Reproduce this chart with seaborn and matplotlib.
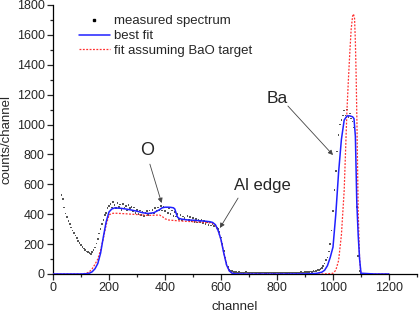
import numpy as np
import matplotlib
matplotlib.use("Agg")
import matplotlib.pyplot as plt
import seaborn as sns
from matplotlib.lines import Line2D
from matplotlib.ticker import MultipleLocator

sns.set_style("ticks")
plt.rcParams["font.family"] = ["Liberation Sans", "DejaVu Sans"]

# measured spectrum, one value every 5 channels from 30 to 1100
measured_channel = np.arange(30, 1101, 5)
measured_counts = [
    530, 500, 445, 405, 380, 355, 335, 312, 292, 275,
    258, 240, 222, 208, 192, 182, 170, 160, 150, 146,
    140, 135, 148, 160, 178, 205, 235, 270, 300, 335,
    360, 395, 410, 440, 455, 470, 445, 480, 460, 440,
    475, 450, 465, 430, 470, 445, 455, 425, 460, 440,
    450, 420, 445, 410, 430, 400, 425, 395, 415, 390,
    410, 420, 395, 425, 405, 430, 410, 440, 420, 445,
    430, 455, 425, 450, 420, 445, 410, 440, 400, 425,
    390, 415, 385, 400, 370, 395, 360, 385, 375, 365,
    390, 360, 380, 355, 375, 350, 370, 345, 365, 350,
    360, 340, 355, 335, 350, 330, 345, 325, 335, 320,
    325, 310, 300, 280, 245, 200, 155, 110, 75, 45,
    30, 22, 18, 15, 12, 14, 10, 12, 9, 11,
    8, 10, 12, 9, 7, 10, 8, 11, 9, 7,
    10, 8, 6, 9, 11, 7, 8, 10, 6, 9,
    7, 9, 8, 6, 10, 7, 9, 8, 7, 10,
    8, 6, 9, 7, 10, 8, 9, 11, 8, 10,
    9, 12, 10, 11, 13, 12, 14, 13, 16, 15,
    18, 17, 22, 25, 28, 32, 40, 55, 70, 95,
    110, 150, 200, 290, 420, 560, 690, 820, 930, 1000,
    1030, 1060, 1095, 1060, 1100, 1050, 1075, 1040, 1020, 980,
    850, 450, 120, 20, 3,
]

# best fit
best_channel = [0, 100, 120, 130, 140, 150, 160, 170, 180, 190, 200, 210, 220,
                240, 260, 280, 300, 320, 340, 360, 380, 390, 400, 410, 420,
                430, 435, 440, 445, 450, 460, 480, 500, 520, 540, 560, 570,
                580, 590, 600, 610, 620, 630, 640, 650, 700, 800, 900, 940,
                960, 970, 980, 990, 1000, 1010, 1020, 1030, 1040, 1050, 1060,
                1070, 1075, 1080, 1085, 1090, 1095, 1100, 1150, 1200]
best_counts = [0, 0, 2, 5, 15, 35, 70, 140, 250, 350, 415, 435, 442,
               440, 435, 428, 420, 410, 405, 410, 430, 443, 447, 447, 446,
               443, 435, 405, 380, 372, 367, 362, 360, 357, 354, 350, 345,
               330, 290, 230, 140, 60, 20, 5, 1, 0, 0, 1, 4,
               12, 25, 55, 110, 180, 400, 680, 900, 1030, 1058, 1058,
               1052, 1040, 920, 480, 260, 100, 5, 0, 0]

# fit assuming BaO target
bao_channel = [0, 100, 120, 130, 140, 150, 160, 170, 180, 190, 200, 210, 220,
               240, 260, 280, 300, 320, 340, 360, 380, 390, 400, 410, 420,
               440, 460, 480, 500, 520, 540, 560, 570, 580, 590, 600, 610,
               620, 630, 640, 650, 700, 800, 900, 960, 970, 980, 990, 1000,
               1010, 1020, 1030, 1040, 1045, 1050, 1055, 1060, 1065, 1070,
               1073, 1077, 1080, 1083, 1086, 1090, 1095, 1100, 1150, 1200]
bao_counts = [0, 0, 5, 15, 35, 65, 100, 160, 240, 330, 395, 405, 407,
              405, 403, 400, 398, 395, 392, 393, 395, 385, 370, 362, 360,
              357, 354, 352, 350, 348, 345, 342, 338, 325, 290, 230, 140,
              60, 20, 5, 1, 0, 0, 0, 0, 1, 2, 3, 5,
              25, 90, 260, 560, 830, 1100, 1300, 1480, 1640, 1725,
              1740, 1710, 1550, 1300, 950, 420, 100, 0, 0, 0]

fig = plt.figure(figsize=(4.19, 3.14), dpi=100)
ax = fig.add_axes([0.1265, 0.1274, 0.8687, 0.8567])

sns.scatterplot(x=measured_channel, y=measured_counts, ax=ax, marker="s",
                s=1.4, color="#555555", edgecolor="none", linewidth=0, zorder=2)
sns.lineplot(x=bao_channel, y=bao_counts, ax=ax, color="#ff3030",
             linewidth=0.9, linestyle=(0, (1.5, 1.2)), sort=False,
             estimator=None, zorder=3)
sns.lineplot(x=best_channel, y=best_counts, ax=ax, color="#2020ff",
             linewidth=1.1, sort=False, estimator=None, zorder=4)

ax.set_xlim(0, 1300)
ax.set_ylim(0, 1800)
ax.xaxis.set_major_locator(MultipleLocator(200))
ax.xaxis.set_minor_locator(MultipleLocator(100))
ax.yaxis.set_major_locator(MultipleLocator(200))
ax.yaxis.set_minor_locator(MultipleLocator(100))
ax.tick_params(which="major", direction="out", length=4, width=0.9,
               labelsize=9, pad=2)
ax.tick_params(which="minor", direction="out", length=2.5, width=0.9)
for side in ["top", "right"]:
    ax.spines[side].set_visible(False)
for side in ["left", "bottom"]:
    ax.spines[side].set_linewidth(0.9)
    ax.spines[side].set_color("black")

ax.set_xlabel("channel", fontsize=9.5, labelpad=5)
ax.set_ylabel("counts/channel", fontsize=9.5, labelpad=3)

arrow = dict(arrowstyle="-|>", color="#444444", lw=0.6,
             mutation_scale=7, shrinkA=0, shrinkB=0)
ax.annotate("", xy=(388, 475), xytext=(346, 735), arrowprops=arrow)
ax.text(336, 829, "O", fontsize=13, ha="center", va="center")
ax.annotate("", xy=(1000, 796), xytext=(839, 1124), arrowprops=arrow)
ax.text(800, 1177, "Ba", fontsize=12.5, ha="center", va="center")
ax.annotate("", xy=(596, 308), xytext=(661, 508), arrowprops=arrow)
ax.text(746, 595, "Al edge", fontsize=12, ha="center", va="center")

handles = [
    Line2D([], [], marker="s", markersize=1.6, color="black", linestyle="none"),
    Line2D([], [], color="#2020ff", linewidth=1.1),
    Line2D([], [], color="#ff3030", linewidth=0.9, linestyle=(0, (1.5, 1.2))),
]
labels = ["measured spectrum", "best fit", "fit assuming BaO target"]
ax.legend(handles, labels, loc="upper left", bbox_to_anchor=(0.045, 0.997),
          frameon=False, fontsize=9.5, handlelength=2.4, handletextpad=0.3,
          labelspacing=0.2, borderpad=0.2)

fig.savefig("out.png", dpi=100)
